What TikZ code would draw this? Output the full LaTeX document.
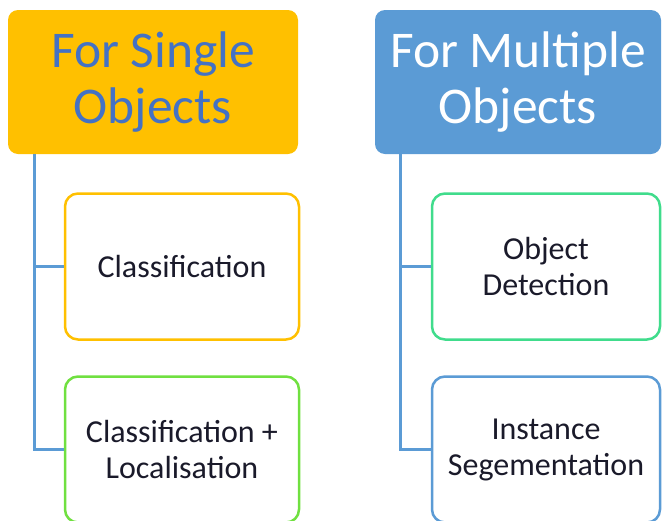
\documentclass[tikz,border=0pt]{standalone}
\usepackage{fontspec}
\setmainfont{Carlito}
\definecolor{gold}{HTML}{FFC000}
\definecolor{skyb}{HTML}{5B9BD5}
\definecolor{titleblue}{HTML}{4472C4}
\definecolor{lgreen}{HTML}{70E040}
\definecolor{tgreen}{HTML}{40DC8C}
\definecolor{txt}{HTML}{1A1A2A}
\begin{document}
\begin{tikzpicture}[x=1pt,y=-1pt,
  head/.style={rectangle, rounded corners=10pt, draw=none, align=center,
    font=\fontsize{51.5}{56}\selectfont, inner sep=0pt},
  child/.style={rectangle, rounded corners=13pt, line width=2.5pt, fill=white,
    align=center, font=\fontsize{32}{36}\selectfont, text=txt, inner sep=0pt,
    minimum width=234pt},
  conn/.style={draw=skyb, line width=3pt}]
\useasboundingbox (0,0) rectangle (662,520);
\node[head, fill=gold, text=titleblue, minimum width=290pt, minimum height=144pt]
  (tl) at (153,82) {For Single\\Objects};
\node[head, fill=skyb, text=white, minimum width=286pt, minimum height=144pt]
  (tr) at (518,82) {For Multiple\\Objects};
\node[child, draw=gold, minimum height=146pt] (c1) at (182,266.5) {Classification};
\node[child, draw=lgreen, minimum height=146pt] (c2) at (182,449.5) {Classification +\\Localisation};
\node[child, draw=tgreen, minimum width=228pt, minimum height=146pt] (d1) at (546,266.5) {Object\\Detection};
\node[child, draw=skyb, minimum width=228pt, minimum height=146pt] (d2) at (546,449.5) {Instance\\Segementation};
\draw[conn] ([xshift=27pt]tl.south west) |- (c2.west);
\draw[conn] ([xshift=27pt]tl.south west) |- (c1.west);
\draw[conn] ([xshift=26pt]tr.south west) |- (d2.west);
\draw[conn] ([xshift=26pt]tr.south west) |- (d1.west);
\end{tikzpicture}
\end{document}
